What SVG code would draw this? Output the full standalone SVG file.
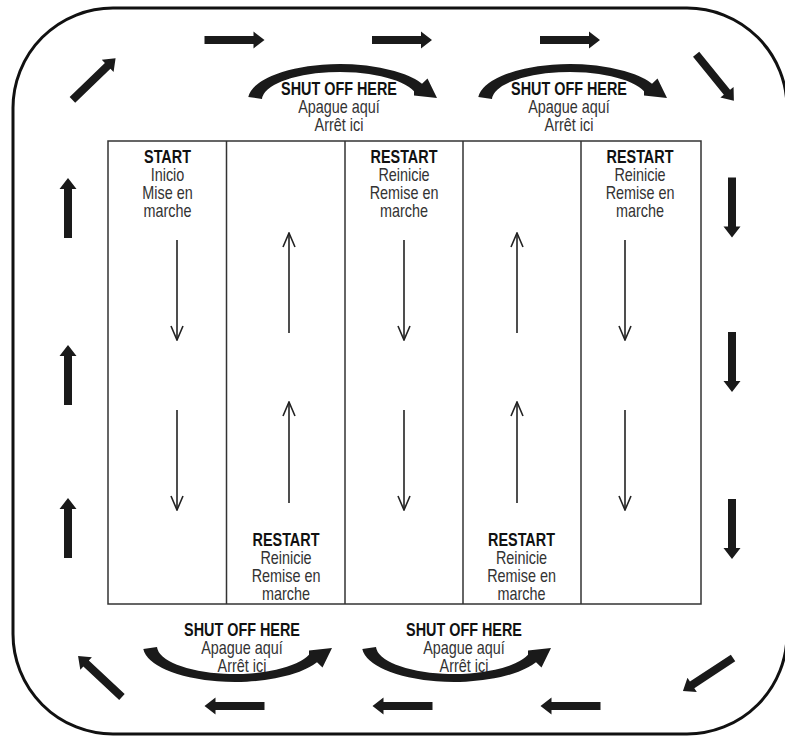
<svg xmlns="http://www.w3.org/2000/svg" width="785" height="736" viewBox="0 0 785 736">
<style>
.border{fill:none;stroke:#111;stroke-width:3}
.grid{fill:none;stroke:#333;stroke-width:1.5}
.thin{stroke:#222;stroke-width:1.6;fill:none;marker-end:url(#open)}
.thick{fill:#1a1a1a}
.b{font-family:"Liberation Sans",Arial,sans-serif;font-weight:bold;font-size:18px;fill:#111;text-anchor:middle}
.r{font-family:"Liberation Sans",Arial,sans-serif;font-size:18px;fill:#333;text-anchor:middle}
</style>
<defs>
<clipPath id="frame"><rect x="0" y="0" width="785" height="736"/></clipPath>
<marker id="open" markerUnits="userSpaceOnUse" markerWidth="16" markerHeight="14" viewBox="-1 -1 16 14" refX="14" refY="6" orient="auto">
<path d="M0,0 L14,6 L0,12" fill="none" stroke="#222" stroke-width="1.6"/>
</marker>
<path id="big" class="thick" d="M-30,-4 L19,-4 L19,-8.5 L30,0 L19,8.5 L19,4 L-30,4 Z"/>
<path id="arc" class="thick" d="M248.3,97 A92,36 0 0 1 422,83.7 L427.5,78.5 L437,98 L414,95.5 L414,91.2 A78,28 0 0 0 262,99 Z"/>
</defs>

<g clip-path="url(#frame)">
<rect class="border" x="13" y="8" width="774" height="726" rx="100" ry="100"/>
</g>

<g id="table">
<rect class="grid" x="108" y="141" width="593" height="463"/>
<line class="grid" x1="226.5" y1="141" x2="226.5" y2="604"/>
<line class="grid" x1="345" y1="141" x2="345" y2="604"/>
<line class="grid" x1="463" y1="141" x2="463" y2="604"/>
<line class="grid" x1="581" y1="141" x2="581" y2="604"/>
</g>

<g id="col1-start" transform="matrix(0.8 0 0 1 167.5 0)">
<text class="b" x="0" y="163">START</text>
<text class="r" x="0" y="181">Inicio</text>
<text class="r" x="0" y="199">Mise en</text>
<text class="r" x="0" y="217">marche</text>
</g>
<g id="col3-restart" transform="matrix(0.8 0 0 1 404 0)">
<text class="b" x="0" y="163">RESTART</text>
<text class="r" x="0" y="181">Reinicie</text>
<text class="r" x="0" y="199">Remise en</text>
<text class="r" x="0" y="217">marche</text>
</g>
<g id="col5-restart" transform="matrix(0.8 0 0 1 640 0)">
<text class="b" x="0" y="163">RESTART</text>
<text class="r" x="0" y="181">Reinicie</text>
<text class="r" x="0" y="199">Remise en</text>
<text class="r" x="0" y="217">marche</text>
</g>
<g id="col2-restart" transform="matrix(0.8 0 0 1 286 0)">
<text class="b" x="0" y="546">RESTART</text>
<text class="r" x="0" y="564">Reinicie</text>
<text class="r" x="0" y="582">Remise en</text>
<text class="r" x="0" y="600">marche</text>
</g>
<g id="col4-restart" transform="matrix(0.8 0 0 1 521.5 0)">
<text class="b" x="0" y="546">RESTART</text>
<text class="r" x="0" y="564">Reinicie</text>
<text class="r" x="0" y="582">Remise en</text>
<text class="r" x="0" y="600">marche</text>
</g>

<g id="shutoff-top-1" transform="matrix(0.8 0 0 1 339 0)">
<text class="b" x="0" y="95">SHUT OFF HERE</text>
<text class="r" x="0" y="113">Apague aquí</text>
<text class="r" x="0" y="131">Arrêt ici</text>
</g>
<g id="shutoff-top-2" transform="matrix(0.8 0 0 1 569 0)">
<text class="b" x="0" y="95">SHUT OFF HERE</text>
<text class="r" x="0" y="113">Apague aquí</text>
<text class="r" x="0" y="131">Arrêt ici</text>
</g>
<g id="shutoff-bottom-1" transform="matrix(0.8 0 0 1 242 0)">
<text class="b" x="0" y="636">SHUT OFF HERE</text>
<text class="r" x="0" y="654">Apague aquí</text>
<text class="r" x="0" y="672">Arrêt ici</text>
</g>
<g id="shutoff-bottom-2" transform="matrix(0.8 0 0 1 464 0)">
<text class="b" x="0" y="636">SHUT OFF HERE</text>
<text class="r" x="0" y="654">Apague aquí</text>
<text class="r" x="0" y="672">Arrêt ici</text>
</g>

<g id="connectors">
<line class="thin" x1="177" y1="240" x2="177" y2="340"/>
<line class="thin" x1="177" y1="410" x2="177" y2="510"/>
<line class="thin" x1="289" y1="333" x2="289" y2="233"/>
<line class="thin" x1="289" y1="503" x2="289" y2="402"/>
<line class="thin" x1="404" y1="240" x2="404" y2="340"/>
<line class="thin" x1="404" y1="410" x2="404" y2="510"/>
<line class="thin" x1="517" y1="333" x2="517" y2="233"/>
<line class="thin" x1="517" y1="503" x2="517" y2="402"/>
<line class="thin" x1="625" y1="240" x2="625" y2="340"/>
<line class="thin" x1="625" y1="410" x2="625" y2="510"/>

<use href="#arc"/>
<use href="#arc" transform="translate(230,0)"/>
<use href="#arc" transform="translate(-105,746) scale(1,-1)"/>
<use href="#arc" transform="translate(114,746) scale(1,-1)"/>

<use href="#big" transform="translate(234.5,40)"/>
<use href="#big" transform="translate(402,40)"/>
<use href="#big" transform="translate(570,40)"/>
<use href="#big" transform="translate(715,77.5) rotate(51)"/>
<use href="#big" transform="translate(732,207.5) rotate(90)"/>
<use href="#big" transform="translate(732,362) rotate(90)"/>
<use href="#big" transform="translate(732,529) rotate(90)"/>
<use href="#big" transform="translate(708,674.5) rotate(146.6)"/>
<use href="#big" transform="translate(570.5,706) rotate(180)"/>
<use href="#big" transform="translate(402.5,706) rotate(180)"/>
<use href="#big" transform="translate(234.5,706) rotate(180)"/>
<use href="#big" transform="translate(100,676.5) rotate(223)"/>
<use href="#big" transform="translate(68,528) rotate(-90)"/>
<use href="#big" transform="translate(68,375) rotate(-90)"/>
<use href="#big" transform="translate(68,208) rotate(-90)"/>
<use href="#big" transform="translate(94,79) rotate(-44)"/>
</g>
</svg>
